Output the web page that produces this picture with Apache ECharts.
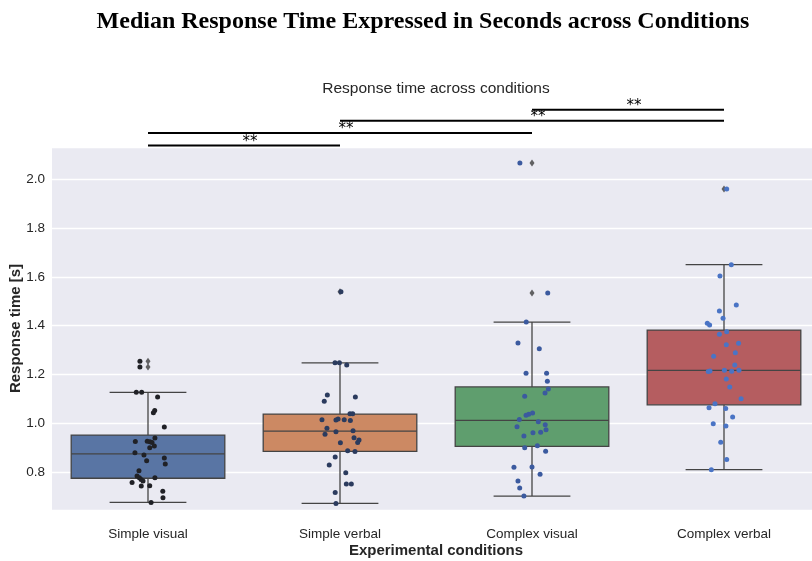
<!DOCTYPE html>
<html><head><meta charset="utf-8">
<script src="https://cdn.jsdelivr.net/npm/echarts@6/dist/echarts.min.js"></script>
<style>html,body{margin:0;padding:0;background:#fff}#c{width:812px;height:561px}</style>
</head><body><div id="c"></div>
<script>
const categories = ['Simple visual', 'Simple verbal', 'Complex visual', 'Complex verbal'];
// [whisker low, Q1, median, Q3, whisker high]
const boxStats = [
  [0.676, 0.775, 0.875, 0.952, 1.127],
  [0.672, 0.885, 0.968, 1.038, 1.248],
  [0.702, 0.906, 1.012, 1.149, 1.415],
  [0.810, 1.076, 1.217, 1.382, 1.650]
];
// [category index, value]
const fliers = [[0, 1.254], [0, 1.231], [1, 1.539], [2, 2.066], [2, 1.534], [3, 1.960]];
const boxColors = ['#5975a4', '#cc8963', '#5f9e6e', '#b55d60'];
const pointColors = ['#202126', '#2b3b5e', '#3b5a9f', '#4a74c5'];
// strip points: [horizontal jitter (category units), value]
const simpleVisualPts = [[-0.042,1.254],[-0.042,1.231],[-0.061,1.127],[-0.033,1.127],[0.050,1.108],[0.035,1.053],[0.028,1.043],[0.085,0.985],[0.036,0.940],[-0.066,0.926],[-0.004,0.927],[0.010,0.925],[0.021,0.922],[0.033,0.907],[0.009,0.900],[-0.068,0.880],[-0.021,0.870],[0.085,0.858],[-0.007,0.847],[0.090,0.833],[-0.047,0.806],[-0.057,0.784],[-0.045,0.777],[-0.036,0.770],[-0.026,0.764],[0.036,0.777],[-0.083,0.758],[-0.035,0.743],[0.009,0.744],[0.077,0.722],[0.078,0.695],[0.016,0.676]];
const simpleVerbalPts = [[0.005,1.539],[-0.026,1.248],[-0.003,1.248],[0.035,1.239],[-0.066,1.116],[-0.082,1.090],[0.080,1.108],[0.052,1.039],[0.066,1.039],[-0.094,1.015],[-0.021,1.014],[-0.010,1.018],[0.022,1.015],[0.054,1.012],[-0.068,0.980],[-0.021,0.966],[-0.078,0.955],[0.068,0.970],[0.073,0.941],[0.099,0.932],[0.092,0.922],[0.002,0.920],[0.040,0.888],[0.078,0.885],[-0.025,0.862],[-0.056,0.829],[0.030,0.798],[0.033,0.752],[0.059,0.751],[-0.025,0.717],[-0.021,0.672]];
const complexVisualPts = [[-0.063,2.066],[0.082,1.534],[-0.030,1.415],[-0.073,1.329],[0.038,1.306],[-0.031,1.205],[0.076,1.205],[0.080,1.172],[0.085,1.141],[0.068,1.124],[-0.038,1.111],[0.003,1.042],[-0.017,1.037],[-0.031,1.033],[-0.066,1.016],[0.033,1.007],[-0.078,0.986],[0.069,0.994],[0.073,0.974],[0.045,0.964],[0.005,0.961],[-0.042,0.948],[-0.038,0.900],[0.028,0.908],[0.071,0.886],[-0.094,0.820],[0.000,0.821],[0.042,0.791],[-0.073,0.764],[-0.064,0.735],[-0.042,0.702]];
const complexVerbalPts = [[0.014,1.960],[0.038,1.650],[-0.021,1.604],[0.064,1.485],[-0.024,1.460],[-0.005,1.430],[-0.087,1.410],[-0.075,1.403],[0.014,1.375],[-0.024,1.365],[0.076,1.328],[0.012,1.322],[0.059,1.289],[-0.054,1.275],[0.056,1.239],[-0.082,1.212],[-0.073,1.214],[0.002,1.217],[0.040,1.213],[0.078,1.217],[0.012,1.182],[0.030,1.149],[0.089,1.101],[-0.047,1.080],[-0.078,1.064],[0.009,1.061],[0.045,1.026],[-0.056,0.998],[0.010,0.989],[-0.017,0.923],[0.014,0.852],[-0.066,0.810]];
const stripGroups = [simpleVisualPts, simpleVerbalPts, complexVisualPts, complexVerbalPts];
// significance brackets: [from category, to category, height]
const sigBars = [[0, 1, 2.138], [0, 2, 2.189], [1, 3, 2.240], [2, 3, 2.285]];
const sigLabels = ['**', '**', '**', '**'];

const edge = '#444444';
const chart = echarts.init(document.getElementById('c'));

const stripSeries = stripGroups.map((pts, gi) => ({
  type: 'scatter', xAxisIndex: 1, yAxisIndex: 0, z: 5,
  symbolSize: 5, silent: true,
  itemStyle: { color: pointColors[gi], opacity: 1 },
  data: pts.map(p => [gi + p[0], p[1]])
}));

chart.setOption({
  animation: false,
  backgroundColor: '#ffffff',
  title: [
    { text: 'Median Response Time Expressed in Seconds across Conditions', left: 423, top: 10, textAlign: 'center', padding: 0,
      textStyle: { fontFamily: 'Liberation Serif', fontWeight: 'bold', fontSize: 24, color: '#000' } },
    { text: 'Response time across conditions', left: 436, top: 81, textAlign: 'center', padding: 0,
      textStyle: { fontFamily: 'Liberation Sans', fontWeight: 'normal', fontSize: 15.5, color: '#262626' } }
  ],
  grid: { left: 52, right: -8, top: 147, bottom: 51, show: true, backgroundColor: '#eaeaf2', borderWidth: 0,
    containLabel: false, outerBoundsMode: 'none' },
  xAxis: [
    { type: 'category', data: categories, boundaryGap: true,
      axisLine: { show: false }, axisTick: { show: false }, splitLine: { show: false },
      axisLabel: { margin: 17, fontFamily: 'Liberation Sans', fontSize: 13.5, color: '#262626' },
      name: 'Experimental conditions', nameLocation: 'middle', nameGap: 33, nameMoveOverlap: false,
      nameTextStyle: { fontFamily: 'Liberation Sans', fontWeight: 'bold', fontSize: 15, color: '#262626' } },
    { type: 'value', min: -0.5, max: 3.5, show: false }
  ],
  yAxis: {
    type: 'value', min: 0.645, max: 2.132, splitNumber: 7,
    axisLine: { show: false }, axisTick: { show: false },
    splitLine: { show: true, lineStyle: { color: '#ffffff', width: 1.3 } },
    axisLabel: { margin: 7, fontFamily: 'Liberation Sans', fontSize: 13.5, color: '#262626', showMinLabel: false, showMaxLabel: false,
      formatter: v => v.toFixed(1) },
    name: 'Response time [s]', nameLocation: 'middle', nameGap: 29, nameMoveOverlap: false,
    nameTextStyle: { fontFamily: 'Liberation Sans', fontWeight: 'bold', fontSize: 15, color: '#262626' }
  },
  series: [
    {
      type: 'custom', xAxisIndex: 0, yAxisIndex: 0, z: 2, silent: true,
      data: boxStats.map((s, i) => [i].concat(s)),
      encode: { x: 0, y: [1, 2, 3, 4, 5] },
      renderItem: function (params, api) {
        const i = api.value(0);
        const band = api.size([1, 0])[0];
        const pLow = api.coord([i, api.value(1)]);
        const pQ1 = api.coord([i, api.value(2)]);
        const pMed = api.coord([i, api.value(3)]);
        const pQ3 = api.coord([i, api.value(4)]);
        const pHigh = api.coord([i, api.value(5)]);
        const x = pMed[0], hw = band * 0.4, cw = band * 0.2;
        const ls = { stroke: edge, lineWidth: 1.3 };
        return { type: 'group', children: [
          { type: 'line', shape: { x1: x, y1: pQ1[1], x2: x, y2: pLow[1] }, style: ls },
          { type: 'line', shape: { x1: x, y1: pQ3[1], x2: x, y2: pHigh[1] }, style: ls },
          { type: 'line', shape: { x1: x - cw, y1: pLow[1], x2: x + cw, y2: pLow[1] }, style: ls },
          { type: 'line', shape: { x1: x - cw, y1: pHigh[1], x2: x + cw, y2: pHigh[1] }, style: ls },
          { type: 'rect', shape: { x: x - hw, y: pQ3[1], width: 2 * hw, height: pQ1[1] - pQ3[1] },
            style: { fill: boxColors[params.dataIndex], stroke: edge, lineWidth: 1.3 } },
          { type: 'line', shape: { x1: x - hw, y1: pMed[1], x2: x + hw, y2: pMed[1] }, style: ls }
        ] };
      }
    },
    {
      type: 'scatter', xAxisIndex: 0, yAxisIndex: 0, z: 4, silent: true,
      symbol: 'diamond', symbolSize: [5, 7],
      itemStyle: { color: '#3f3f3f' },
      data: fliers
    },
    ...stripSeries,
    {
      type: 'custom', xAxisIndex: 0, yAxisIndex: 0, z: 6, silent: true, clip: false,
      data: sigBars,
      encode: { x: [0, 1], y: 2 },
      renderItem: function (params, api) {
        const a = api.coord([api.value(0), api.value(2)]);
        const b = api.coord([api.value(1), api.value(2)]);
        return { type: 'group', children: [
          { type: 'line', shape: { x1: a[0], y1: a[1], x2: b[0], y2: b[1] }, style: { stroke: '#000', lineWidth: 2 } },
          { type: 'text', x: (a[0] + b[0]) / 2 + 6, y: a[1] + 4,
            style: { text: sigLabels[params.dataIndex], textAlign: 'center', textVerticalAlign: 'bottom',
              font: '15px "DejaVu Sans"', fill: '#000' } }
        ] };
      }
    }
  ]
});
</script></body></html>
